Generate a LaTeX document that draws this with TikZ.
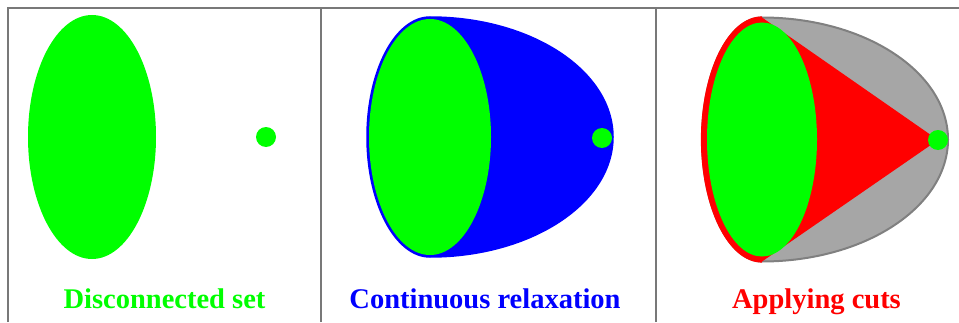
\documentclass[tikz,border=0pt]{standalone}
\usepackage{fontspec}
\setmainfont{Liberation Serif}
\begin{document}
\begin{tikzpicture}[x=1pt,y=1pt,
  frameline/.style={draw=black!53,line width=2pt},
  lbl/.style={font=\fontsize{28.5}{30}\selectfont\bfseries,anchor=base,inner sep=0pt},
  dot/.style={fill=green}]
\definecolor{cutgray}{HTML}{A6A6A6}
\definecolor{cutedge}{HTML}{808080}
\useasboundingbox (0,0) rectangle (959,322);
% frame
\draw[frameline] (8,0) -- (8,314) -- (959,314);
\draw[frameline] (321,0) -- (321,314);
\draw[frameline] (656,0) -- (656,314);
% panel 1
\fill[green] (92,185) ellipse [x radius=64, y radius=122];
\fill[dot] (266,185) circle (10);
% panel 2
\draw[blue,fill=blue,line width=1.5pt] (430,305) arc[start angle=90,end angle=270,x radius=63,y radius=120]
  arc[start angle=270,end angle=450,x radius=183,y radius=120] -- cycle;
\fill[green] (430,185) ellipse [x radius=61, y radius=118];
\fill[dot] (602,184) circle (10);
% panel 3
\draw[cutedge,fill=cutgray,line width=2pt] (762,304.5) arc[start angle=90,end angle=270,x radius=60,y radius=122]
  arc[start angle=270,end angle=450,x radius=186,y radius=122] -- cycle;
\fill[red] (762,304.5) arc[start angle=90,end angle=270,x radius=60,y radius=122]
  -- (938,182) -- cycle;
\draw[red,line width=2.2pt] (762,304.5) arc[start angle=90,end angle=270,x radius=60,y radius=122];
\fill[green] (762,182.5) ellipse [x radius=55, y radius=117];
\fill[dot] (938,182) circle (10);
% labels
\node[lbl,text=green] (l1) at (164.5,14) {Disconnected set};
\node[lbl,text=blue] (l2) at (485,14) {Continuous relaxation};
\node[lbl,text=red] (l3) at (816.5,14) {Applying cuts};
\end{tikzpicture}
\end{document}
